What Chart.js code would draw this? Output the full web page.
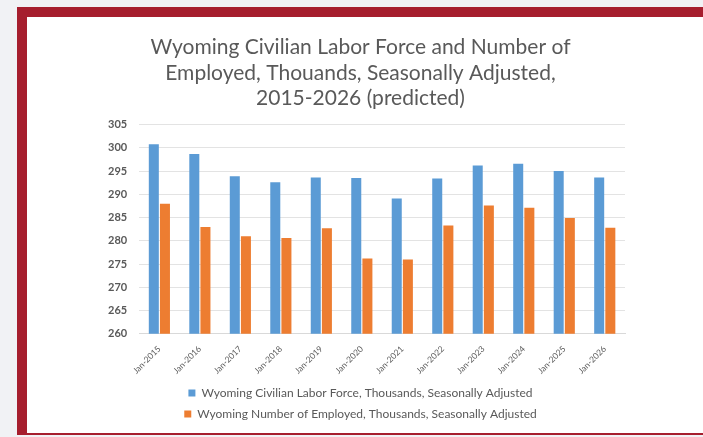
<!DOCTYPE html>
<html>
<head>
<meta charset="utf-8">
<script src="https://cdn.jsdelivr.net/npm/chart.js@4.4.0/dist/chart.umd.min.js"></script>
<style>
  html, body { margin: 0; padding: 0; }
  body { width: 703px; height: 437px; background: #f1f2f5; position: relative; overflow: hidden; }
  #frame { position: absolute; left: 17px; top: 7px; width: 686px; height: 428px;
           background: #a61e2e; }
  #inner { position: absolute; left: 10px; top: 10px; width: 676px; height: 416px; background: #fff; }
  #wrap { position: absolute; left: 0; top: 0; width: 676px; height: 416px; }
</style>
</head>
<body>
<div id="frame">
  <div id="inner">
    <div id="wrap"><canvas id="laborChart"></canvas></div>
  </div>
</div>
<script>
let years = ['Jan-2015', 'Jan-2016', 'Jan-2017', 'Jan-2018', 'Jan-2019', 'Jan-2020',
             'Jan-2021', 'Jan-2022', 'Jan-2023', 'Jan-2024', 'Jan-2025', 'Jan-2026'];
let laborForce = [300.8, 298.7, 293.9, 292.6, 293.6, 293.5, 289.1, 293.4, 296.2, 296.6, 295.0, 293.6];
let employed = [288.0, 283.0, 281.0, 280.6, 282.7, 276.2, 276.0, 283.3, 287.6, 287.1, 284.9, 282.8];

let textGray = '#595959';
let fontName = 'Lato, "Open Sans", sans-serif';

let ctx = document.getElementById('laborChart').getContext('2d');

let data = {
    labels: years,
    datasets: [{
        label: 'Wyoming Civilian Labor Force, Thousands, Seasonally Adjusted',
        data: laborForce,
        backgroundColor: '#5b9bd5'
    }, {
        label: 'Wyoming Number of Employed, Thousands, Seasonally Adjusted',
        data: employed,
        backgroundColor: '#ed7d31'
    }]
};

let laborChart = new Chart(ctx, {
    type: 'bar',
    data: data,
    options: {
        responsive: true,
        maintainAspectRatio: false,
        animation: false,
        layout: { padding: { left: 69, right: 78, top: 0, bottom: 3 } },
        datasets: { bar: { categoryPercentage: 0.55, barPercentage: 0.9 } },
        plugins: {
            title: {
                display: true,
                text: ['Wyoming Civilian Labor Force and Number of',
                       'Employed, Thouands, Seasonally Adjusted,',
                       '2015-2026 (predicted)'],
                color: textGray,
                font: { family: fontName, size: 21, weight: 'normal', lineHeight: 1.2 },
                padding: { top: 18, bottom: 14 }
            },
            legend: {
                display: true,
                position: 'bottom',
                labels: {
                    color: textGray,
                    font: { family: fontName, size: 12 },
                    boxWidth: 7,
                    boxHeight: 7,
                    padding: 9
                }
            },
            tooltip: { enabled: false }
        },
        scales: {
            x: {
                grid: { display: false },
                border: { color: '#d9d9d9' },
                ticks: {
                    color: textGray,
                    font: { family: fontName, size: 8.5 },
                    minRotation: 45,
                    maxRotation: 45,
                    padding: 2
                }
            },
            y: {
                min: 260,
                max: 305,
                border: { display: false },
                grid: { color: '#e3e3e3', drawTicks: false },
                ticks: {
                    stepSize: 5,
                    color: textGray,
                    font: { family: fontName, size: 11, weight: 'bold' },
                    padding: 12
                }
            }
        }
    }
});
</script>
</body>
</html>
